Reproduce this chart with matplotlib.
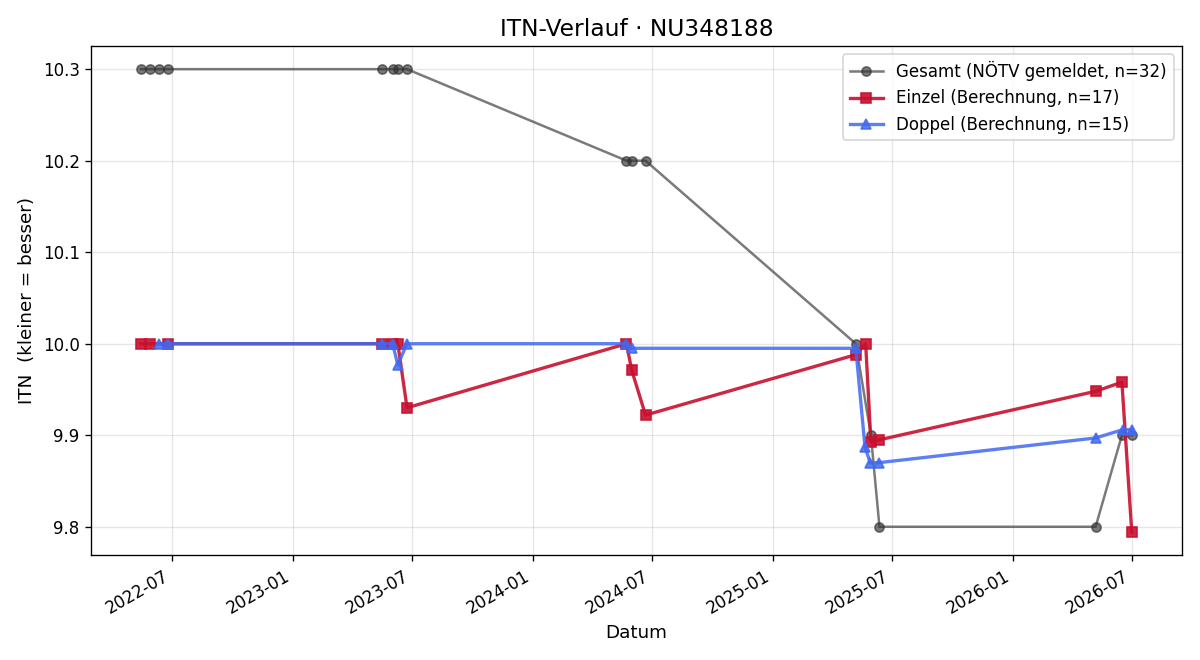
import matplotlib
matplotlib.use("Agg")
import matplotlib.pyplot as plt
import matplotlib.dates as mdates
import pandas as pd

# Gesamt (NÖTV gemeldet)
gesamt_dates = ["2022-05-15", "2022-05-29", "2022-06-11", "2022-06-25",
                "2023-05-17", "2023-06-02", "2023-06-10", "2023-06-24",
                "2024-05-23", "2024-05-31", "2024-06-21",
                "2025-05-07", "2025-05-30", "2025-06-12",
                "2026-05-07", "2026-06-16", "2026-07-01"]
gesamt_itn = [10.3, 10.3, 10.3, 10.3,
              10.3, 10.3, 10.3, 10.3,
              10.2, 10.2, 10.2,
              10.0, 9.9, 9.8,
              9.8, 9.9, 9.9]

# Einzel (Berechnung)
einzel_dates = ["2022-05-15", "2022-05-29", "2022-06-25",
                "2023-05-17", "2023-06-02", "2023-06-10", "2023-06-24",
                "2024-05-23", "2024-05-31", "2024-06-21",
                "2025-05-07", "2025-05-22", "2025-05-30", "2025-06-12",
                "2026-05-07", "2026-06-16", "2026-07-01"]
einzel_itn = [10.0, 10.0, 10.0,
              10.0, 10.0, 10.0, 9.930,
              10.0, 9.971, 9.922,
              9.988, 10.0, 9.893, 9.895,
              9.948, 9.958, 9.794]

# Doppel (Berechnung)
doppel_dates = ["2022-06-11", "2022-06-25",
                "2023-05-17", "2023-06-02", "2023-06-10", "2023-06-24",
                "2024-05-23", "2024-05-31",
                "2025-05-07", "2025-05-21", "2025-05-29", "2025-06-11",
                "2026-05-07", "2026-06-17", "2026-07-02"]
doppel_itn = [10.0, 10.0,
              10.0, 10.0, 9.977, 10.0,
              10.0, 9.995,
              9.995, 9.887, 9.870, 9.870,
              9.897, 9.906, 9.906]

fig, ax = plt.subplots(figsize=(10, 5.5), dpi=120)

ax.plot(pd.to_datetime(gesamt_dates), gesamt_itn, color="#333333", alpha=0.65,
        marker="o", markersize=5.5, linewidth=1.5,
        label="Gesamt (NÖTV gemeldet, n=32)")
ax.plot(pd.to_datetime(einzel_dates), einzel_itn, color="#c8102e", alpha=0.9,
        marker="s", markersize=6, linewidth=2,
        label=f"Einzel (Berechnung, n={len(einzel_itn)})")
ax.plot(pd.to_datetime(doppel_dates), doppel_itn, color="#4169f0", alpha=0.85,
        marker="^", markersize=6, linewidth=2,
        label=f"Doppel (Berechnung, n={len(doppel_itn)})")

ax.set_title("ITN-Verlauf · NU348188", fontsize=14)
ax.set_xlabel("Datum", fontsize=11)
ax.set_ylabel("ITN  (kleiner = besser)", fontsize=11)
ax.grid(True, alpha=0.3)
ax.xaxis.set_major_locator(mdates.MonthLocator(bymonth=[1, 7]))
ax.xaxis.set_major_formatter(mdates.DateFormatter("%Y-%m"))
ax.legend(loc="upper right")
fig.autofmt_xdate()
fig.tight_layout()
fig.savefig("out.png")
